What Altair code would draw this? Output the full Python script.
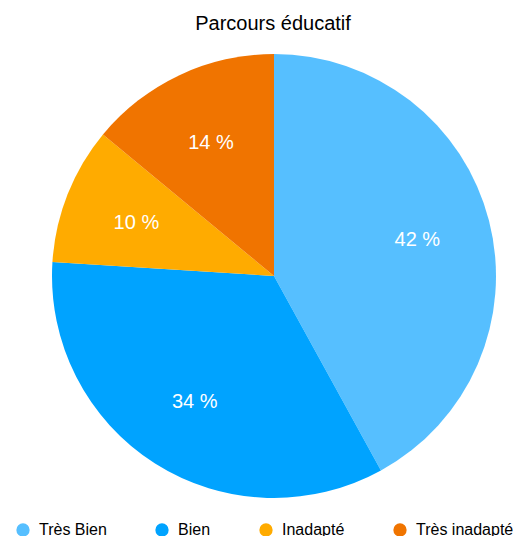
import altair as alt
import pandas as pd

categories = ["Très Bien", "Bien", "Inadapté", "Très inadapté"]
values = [42, 34, 10, 14]
colors = ["#56bfff", "#00a3ff", "#ffab00", "#f07400"]
labels = [f"{v} %" for v in values]

df = pd.DataFrame({"cat": categories, "val": values, "ord": list(range(len(values))), "label": labels})

FONT = "Helvetica Neue, Helvetica, Liberation Sans, Arial, sans-serif"

base = alt.Chart(df).encode(
    theta=alt.Theta("val:Q", stack=True),
    order=alt.Order("ord:Q"),
    x=alt.value(266),
    y=alt.value(228),
)

arc = base.mark_arc(outerRadius=222, stroke=None).encode(
    color=alt.Color(
        "cat:N",
        scale=alt.Scale(domain=categories, range=colors),
        sort=categories,
        legend=alt.Legend(
            title=None,
            orient="none",
            legendX=7,
            legendY=474,
            direction="horizontal",
            symbolType="circle",
            symbolSize=177,
            symbolStrokeWidth=0,
            symbolOpacity=1,
            labelFontSize=16,
            labelFont=FONT,
            labelColor="#000000",
            labelOffset=8,
            columnPadding=47,
            padding=0,
            labelLimit=300,
        ),
    )
)

text = base.mark_text(radius=148, color="white", fontSize=20, font=FONT, dy=1).encode(
    text="label:N"
)

chart = (
    alt.layer(arc, text)
    .properties(
        width=516,
        height=500,
        autosize=alt.AutoSizeParams(type="none"),
        padding={"left": 0, "top": 40, "right": 0, "bottom": 0},
        title=alt.TitleParams(
            "Parcours éducatif",
            fontSize=20,
            font=FONT,
            fontWeight="normal",
            color="#000000",
            anchor="middle",
            frame="group",
            baseline="alphabetic",
            offset=18,
            dx=7,
            dy=20,
        ),
    )
    .configure_view(stroke=None)
)

chart.save("out.html", embed_options={"renderer": "svg", "actions": False})
